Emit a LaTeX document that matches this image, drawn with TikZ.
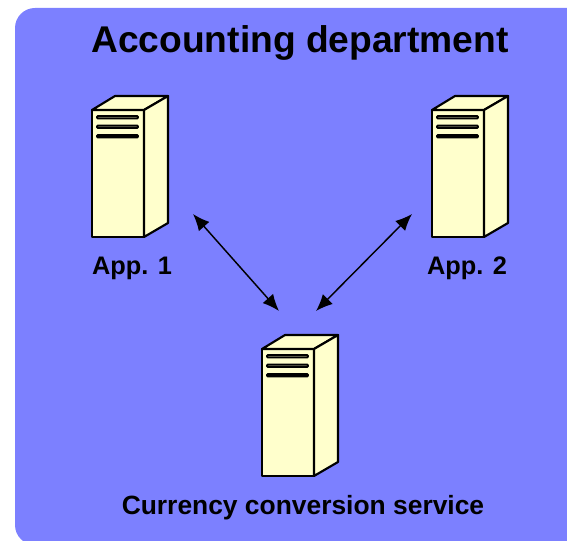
\documentclass[tikz,border=0pt]{standalone}
\usepackage{fontspec}
\setmainfont{Liberation Sans}
\usetikzlibrary{arrows.meta}
\definecolor{deptblue}{RGB}{124,128,255}
\definecolor{servercream}{RGB}{255,255,204}
\tikzset{
    serverline/.style={draw=black,line width=1.6pt,line join=round,fill=servercream},
    slotline/.style={draw=black,line width=1.3pt,rounded corners=0.6pt},
    link/.style={{Latex[length=12.5pt,width=10.5pt]}-{Latex[length=12.5pt,width=10.5pt]},line width=1.1pt},
    label/.style={font=\bfseries\fontsize{19}{23}\selectfont,text=black,inner sep=0pt},
    server/.pic={
        \draw[serverline] (0,0)--(52,0)--(52,127)--(0,127)--cycle;
        \draw[serverline] (0,0)--(23,-14)--(76,-14)--(52,0)--cycle;
        \draw[serverline] (52,0)--(76,-14)--(76,113)--(52,127)--cycle;
        \draw[slotline,fill=servercream!55!black] (5,6) rectangle (46,8.5);
        \draw[slotline,fill=servercream!45!black] (5,15.5) rectangle (46,18);
        \draw[slotline,fill=black] (5,25) rectangle (46,27.5);
    }
}
\begin{document}
\begin{tikzpicture}[x=0.75pt,y=-0.75pt]
    \useasboundingbox (0,0) rectangle (567,541);
    \clip (0,0) rectangle (567,541);
    \fill[deptblue,rounded corners=15pt] (15,8) rectangle (597,545);
    \node[font=\bfseries\fontsize{27.9}{33}\selectfont,inner sep=0pt] (title) at (300,43) {Accounting department};
    % the three machines
    \pic at (92,110) {server};
    \pic at (432,110) {server};
    \pic at (262,349) {server};
    \node[label] (app1) at (132,268) {App. 1};
    \node[label] (app2) at (467,268) {App. 2};
    \node[label,font=\bfseries\fontsize{19.8}{23}\selectfont] (conv) at (303,508) {Currency conversion service};
    \coordinate (leftend) at (193,214);
    \coordinate (rightend) at (412,214);
    \coordinate (servleft) at (279,311);
    \coordinate (servright) at (316,311);
    \draw[link] (leftend)--(servleft);
    \draw[link] (rightend)--(servright);
\end{tikzpicture}
\end{document}
